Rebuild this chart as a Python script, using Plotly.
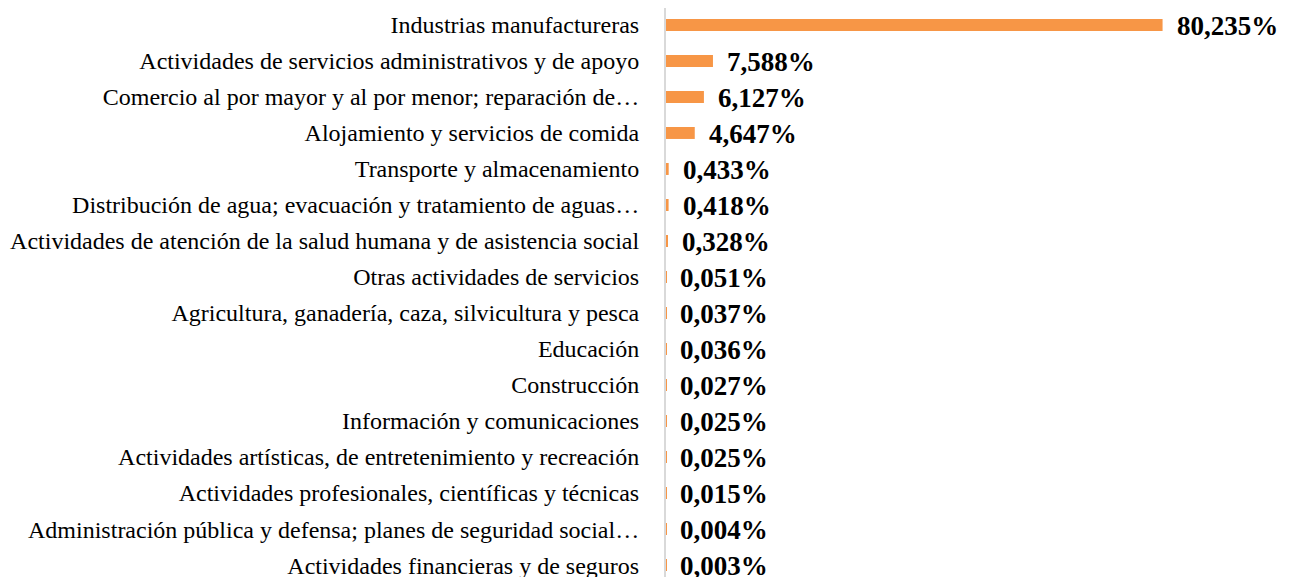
import plotly.graph_objects as go

categories = [
    "Industrias manufactureras",
    "Actividades de servicios administrativos y de apoyo",
    "Comercio al por mayor y al por menor; reparación de…",
    "Alojamiento y servicios de comida",
    "Transporte y almacenamiento",
    "Distribución de agua; evacuación y tratamiento de aguas…",
    "Actividades de atención de la salud humana y de asistencia social",
    "Otras actividades de servicios",
    "Agricultura, ganadería, caza, silvicultura y pesca",
    "Educación",
    "Construcción",
    "Información y comunicaciones",
    "Actividades artísticas, de entretenimiento y recreación",
    "Actividades profesionales, científicas y técnicas",
    "Administración pública y defensa; planes de seguridad social…",
    "Actividades financieras y de seguros",
]
values = [80.235, 7.588, 6.127, 4.647, 0.433, 0.418, 0.328, 0.051,
          0.037, 0.036, 0.027, 0.025, 0.025, 0.015, 0.004, 0.003]
value_labels = ["80,235%", "7,588%", "6,127%", "4,647%", "0,433%", "0,418%",
                "0,328%", "0,051%", "0,037%", "0,036%", "0,027%", "0,025%",
                "0,025%", "0,015%", "0,004%", "0,003%"]

BAR_COLOR = "#F79646"
FONT = "Liberation Serif, Times New Roman, serif"

fig = go.Figure(go.Bar(
    x=values, y=categories, orientation="h",
    marker=dict(color=BAR_COLOR, line=dict(width=0)),
    hoverinfo="skip",
))

for cat, v, lab in zip(categories, values, value_labels):
    fig.add_annotation(
        x=v, y=cat, xref="x", yref="y", text="<b>" + lab + "</b>",
        showarrow=False, xanchor="left", yanchor="middle", xshift=12, yshift=-1,
        font=dict(family=FONT, size=27, color="#000000"),
    )

fig.update_layout(
    width=1287, height=569,
    margin=dict(l=658, r=72, t=0, b=0, autoexpand=False),
    paper_bgcolor="white", plot_bgcolor="white",
    bargap=0.667,
    showlegend=False,
    xaxis=dict(range=[0, 90], visible=False, showgrid=False, zeroline=False,
               automargin=False),
    yaxis=dict(
        type="category", categoryorder="array", categoryarray=categories,
        range=[15.33, -0.47], showgrid=False, zeroline=False, automargin=False,
        showline=True, linecolor="#D9D9D9", linewidth=2,
        ticks="", ticklabelstandoff=20,
        tickfont=dict(family=FONT, size=24, color="#000000"),
    ),
)

fig.write_html("out.html")
